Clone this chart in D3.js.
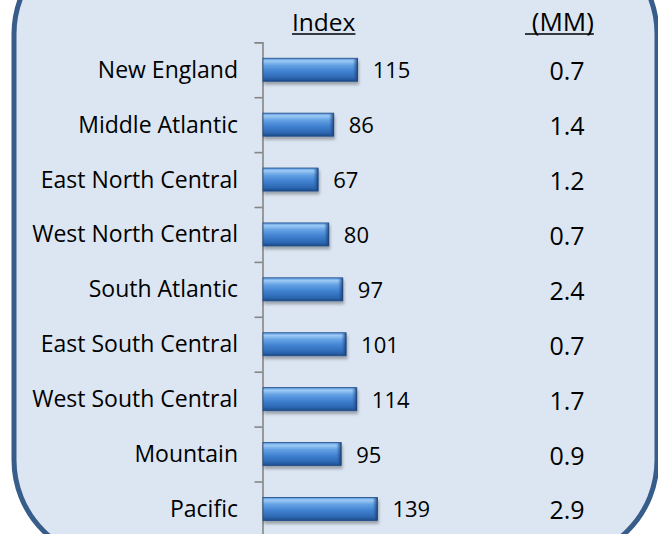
<!DOCTYPE html>
<html>
<head>
<meta charset="utf-8">
<script src="https://cdn.jsdelivr.net/npm/d3@7"></script>
<style>
  html, body { margin: 0; padding: 0; background: #ffffff; }
  svg { display: block; font-family: "Open Sans", sans-serif; }
</style>
</head>
<body>
<div id="chart"></div>
<script>
// data
var regions = ["New England", "Middle Atlantic", "East North Central", "West North Central",
  "South Atlantic", "East South Central", "West South Central", "Mountain", "Pacific"];
var indexValues = [115, 86, 67, 80, 97, 101, 114, 95, 139];
var mmValues = ["0.7", "1.4", "1.2", "0.7", "2.4", "0.7", "1.7", "0.9", "2.9"];
var headers = ["Index", " (MM)"];

var W = 658, H = 534;

var svg = d3.select("#chart").append("svg")
  .attr("width", W)
  .attr("height", H);

var defs = svg.append("defs");

// glossy bar fill
var grad = defs.append("linearGradient")
  .attr("id", "barGrad")
  .attr("x1", 0).attr("y1", 0).attr("x2", 0).attr("y2", 1);
[[0, "#5596dc"], [0.12, "#9dcaf5"], [0.3, "#64a2e4"], [0.55, "#4283d2"], [0.85, "#2c67b2"], [1, "#1d4a86"]]
  .forEach(function(s) { grad.append("stop").attr("offset", s[0]).attr("stop-color", s[1]); });

var capGrad = defs.append("linearGradient")
  .attr("id", "capGrad")
  .attr("x1", 0).attr("y1", 0).attr("x2", 1).attr("y2", 0);
capGrad.append("stop").attr("offset", 0).attr("stop-color", "#2f68b3").attr("stop-opacity", 0);
capGrad.append("stop").attr("offset", 1).attr("stop-color", "#17396b").attr("stop-opacity", 0.9);

var shadow = defs.append("filter").attr("id", "shadow")
  .attr("x", "-10%").attr("y", "-20%").attr("width", "130%").attr("height", "180%");
shadow.append("feGaussianBlur").attr("in", "SourceAlpha").attr("stdDeviation", 1.6);
shadow.append("feOffset").attr("dx", 1).attr("dy", 3).attr("result", "off");
shadow.append("feComponentTransfer").append("feFuncA").attr("type", "linear").attr("slope", 0.3);
var merge = shadow.append("feMerge");
merge.append("feMergeNode");
merge.append("feMergeNode").attr("in", "SourceGraphic");

// rounded panel, top and right edges run past the picture
svg.append("rect")
  .attr("x", 14).attr("y", -66)
  .attr("width", 643).attr("height", 626)
  .attr("rx", 100).attr("ry", 100)
  .attr("fill", "#dce6f2")
  .attr("stroke", "#385d8a")
  .attr("stroke-width", 5);

// scales
var y = d3.scaleBand()
  .domain(regions)
  .range([42.3, 536.4])
  .paddingInner(0.58)
  .paddingOuter(0.29);

var x = d3.scaleLinear()
  .domain([0, 160])
  .range([263, 263 + 0.823 * 160]);

var tickScale = d3.scaleLinear()
  .domain([0, regions.length])
  .range(y.range());

// axis with ticks between categories
var axisG = svg.append("g")
  .attr("transform", "translate(262.5,0)")
  .call(d3.axisLeft(tickScale)
    .tickValues(d3.range(regions.length + 1))
    .tickSize(8)
    .tickSizeOuter(8)
    .tickFormat(""));
axisG.selectAll("path, line")
  .attr("stroke", "#868686")
  .attr("stroke-width", 1.6);

// bars
var barG = svg.append("g").selectAll("g.bar")
  .data(regions)
  .enter()
  .append("g")
    .attr("class", "bar")
    .attr("filter", "url(#shadow)");

barG.append("rect")
  .attr("x", x(0))
  .attr("y", function(d) { return y(d); })
  .attr("width", function(d, i) { return x(indexValues[i]) - x(0); })
  .attr("height", y.bandwidth())
  .attr("fill", "url(#barGrad)")
  .attr("stroke", "#1f4a85")
  .attr("stroke-width", 0.8);

barG.append("rect")
  .attr("x", function(d, i) { return x(indexValues[i]) - 5; })
  .attr("y", function(d) { return y(d) + 0.5; })
  .attr("width", 5)
  .attr("height", y.bandwidth() - 1)
  .attr("fill", "url(#capGrad)");

// category labels
svg.append("g").selectAll("text")
  .data(regions)
  .enter()
  .append("text")
    .attr("x", 238)
    .attr("y", function(d) { return y(d) + y.bandwidth() / 2 + 8; })
    .attr("text-anchor", "end")
    .attr("font-size", 23)
    .attr("fill", "#000")
    .text(function(d) { return d; });

// index labels
svg.append("g").selectAll("text")
  .data(regions)
  .enter()
  .append("text")
    .attr("x", function(d, i) { return x(indexValues[i]) + 15; })
    .attr("y", function(d) { return y(d) + y.bandwidth() / 2 + 8.5; })
    .attr("font-size", 22)
    .attr("fill", "#000")
    .text(function(d, i) { return indexValues[i]; });

// MM column
svg.append("g").selectAll("text")
  .data(regions)
  .enter()
  .append("text")
    .attr("x", 567)
    .attr("y", function(d) { return y(d) + y.bandwidth() / 2 + 10.5; })
    .attr("text-anchor", "middle")
    .attr("font-size", 25)
    .attr("fill", "#000")
    .text(function(d, i) { return mmValues[i]; });

// headers with underline
var hdr = svg.append("g").selectAll("g.hdr")
  .data([{ t: headers[0], x: 292, size: 24.5 }, { t: headers[1], x: 525, size: 26 }])
  .enter()
  .append("g")
    .attr("class", "hdr");

hdr.append("text")
  .attr("x", function(d) { return d.x; })
  .attr("y", 31)
  .attr("font-size", function(d) { return d.size; })
  .attr("fill", "#000")
  .style("white-space", "pre")
  .text(function(d) { return d.t; });

hdr.each(function() {
  var g = d3.select(this);
  var w = g.select("text").node().getComputedTextLength();
  var x0 = +g.select("text").attr("x");
  g.append("line")
    .attr("x1", x0).attr("x2", x0 + w)
    .attr("y1", 34).attr("y2", 34)
    .attr("stroke", "#000")
    .attr("stroke-width", 1.5);
});
</script>
</body>
</html>
